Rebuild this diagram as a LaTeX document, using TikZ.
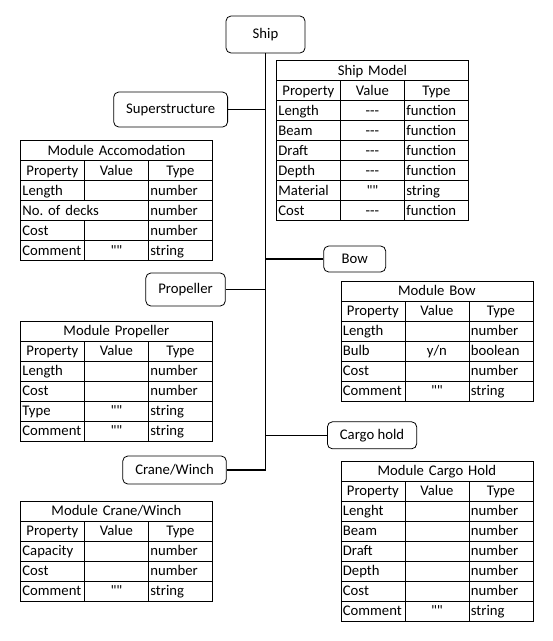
\documentclass[tikz,border=0pt]{standalone}
\usepackage{fontspec}
\setmainfont{Carlito}[Ligatures=TeXOff]
\frenchspacing

\tikzset{
  box/.style={draw, rounded corners=5pt, line width=0.8pt, inner xsep=12.5pt, minimum height=34pt},
  link/.style={line width=1.5pt},
  cell/.style={draw, line width=0.8pt, anchor=north west, minimum width=64pt, minimum height=20pt,
    inner xsep=2pt, inner ysep=0pt, text height=14.5pt, text depth=5pt, text width=60pt},
  hcell/.style={cell, align=center},
  lcell/.style={cell, align=left},
  ccell/.style={cell, align=center},
}

\newcommand\nodash{-\kern0pt-\kern0pt-}

% name, left, top, title, row without value column (0 = none), rows
\newcommand\modtable[6]{%
  \node[cell, minimum width=192pt, text width=188pt, align=center] (#1) at (#2,#3) {#4};
  \foreach \h [count=\j] in {Property,Value,Type}
    \node[hcell] (#1-0-\j) at (#2+64*\j-64,#3+20) {\h};
  \foreach \p/\v/\t [count=\i] in {#6} {
    \ifnum\i=#5
      \node[lcell, minimum width=128pt, text width=124pt] (#1-\i-1) at (#2,#3+20+20*\i) {\p};
    \else
      \node[lcell] (#1-\i-1) at (#2,#3+20+20*\i) {\p};
      \node[ccell] (#1-\i-2) at (#2+64,#3+20+20*\i) {\v};
    \fi
    \node[lcell] (#1-\i-3) at (#2+128,#3+20+20*\i) {\t};
  }%
}

\begin{document}
\begin{tikzpicture}[x=1pt, y=-1pt, font=\fontsize{14.7pt}{18pt}\selectfont]
\useasboundingbox (0,0) rectangle (553,641);

\node[box, minimum width=79pt, minimum height=37pt] (ship) at (265.5,34.5) {Ship};
\node[box, minimum height=35pt, anchor=east] (super) at (228,109.5) {Superstructure};
\node[box, minimum width=62pt, minimum height=26pt, anchor=west] (bow) at (323.3,259) {Bow};
\node[box, minimum height=33pt, anchor=east] (prop) at (225.7,289.5) {Propeller};
\node[box, minimum height=27pt, anchor=west] (cargo) at (327,435.3) {Cargo hold};
\node[box, minimum height=28pt, anchor=east] (crane) at (226.7,470) {Crane/Winch};

\draw[link] (ship.south) -- (ship.south |- crane.east) -- (crane.east);
\foreach \b in {super,prop}
  \draw[link] (\b.east) -- (\b.east -| ship.south);
\foreach \b in {bow,cargo}
  \draw[link] (\b.west) -- (\b.west -| ship.south);

\modtable{model}{276}{60}{Ship Model}{0}{Length/\nodash/function, Beam/\nodash/function,
  Draft/\nodash/function, Depth/\nodash/function, Material/""/string, Cost/\nodash/function}
\modtable{accom}{20}{140}{Module Accomodation}{2}{Length//number, No. of decks//number,
  Cost//number, Comment/""/string}
\modtable{bowtab}{340.5}{280.5}{Module Bow}{0}{Length//number, Bulb/{y/n}/boolean,
  Cost//number, Comment/""/string}
\modtable{proptab}{20}{320.5}{Module Propeller}{0}{Length//number, Cost//number,
  Type/""/string, Comment/""/string}
\modtable{cargotab}{340.5}{460.5}{Module Cargo Hold}{0}{Lenght//number, Beam//number,
  Draft//number, Depth//number, Cost//number, Comment/""/string}
\modtable{cranetab}{20}{500.5}{Module Crane/Winch}{0}{Capacity//number, Cost//number,
  Comment/""/string}
\end{tikzpicture}
\end{document}
